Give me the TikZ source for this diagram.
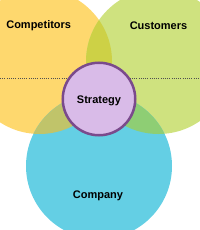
\documentclass[tikz,border=0pt]{standalone}
\usepackage{fontspec}
\setmainfont{Liberation Sans}
\definecolor{cyel}{RGB}{254,216,110}
\definecolor{cgrn}{RGB}{207,226,127}
\definecolor{cblu}{RGB}{100,207,228}
\definecolor{cyg}{RGB}{205,209,70}
\definecolor{cyb}{RGB}{192,196,106}
\definecolor{cgb}{RGB}{142,206,116}
\definecolor{cpurf}{RGB}{217,187,232}
\definecolor{cpurd}{RGB}{122,74,140}
\definecolor{cdot}{RGB}{80,80,80}
\begin{document}
\begin{tikzpicture}[x=1pt,y=-1pt,
  lbl/.style={font=\fontsize{11}{13}\selectfont\bfseries, text=black, inner sep=0pt}]
\useasboundingbox (0,0) rectangle (200,230);
\clip (0,0) rectangle (200,230);
\coordinate (cy) at (39.5,61.5);
\coordinate (cg) at (158.5,61.5);
\coordinate (cb) at (99,166);
% base circles
\fill[cyel] (cy) circle[radius=72.5];
\fill[cgrn] (cg) circle[radius=72.5];
\fill[cblu] (cb) circle[radius=73];
% overlaps
\begin{scope}
  \clip (cy) circle[radius=72.5];
  \fill[cyg] (cg) circle[radius=72.5];
  \fill[cyb] (cb) circle[radius=73];
\end{scope}
\begin{scope}
  \clip (cg) circle[radius=72.5];
  \fill[cgb] (cb) circle[radius=73];
\end{scope}
% dotted line
\coordinate (dl) at (0,78.5);
\coordinate (dr) at (200,78.5);
\draw[cdot, line width=0.6pt, dash pattern=on 1pt off 1.2pt] (dl) -- (dr);
% strategy circle
\node[circle, fill=cpurf, draw=cpurd, line width=2.5pt, minimum size=72.5pt, inner sep=0pt] (strat) at (99,99) {};
\node[lbl] (strategy) at (99,100.5) {Strategy};
\node[lbl] (competitors) at (38.7,26) {Competitors};
\node[lbl] (customers) at (158.5,26) {Customers};
\node[lbl] (company) at (98,195.5) {Company};
\end{tikzpicture}
\end{document}
